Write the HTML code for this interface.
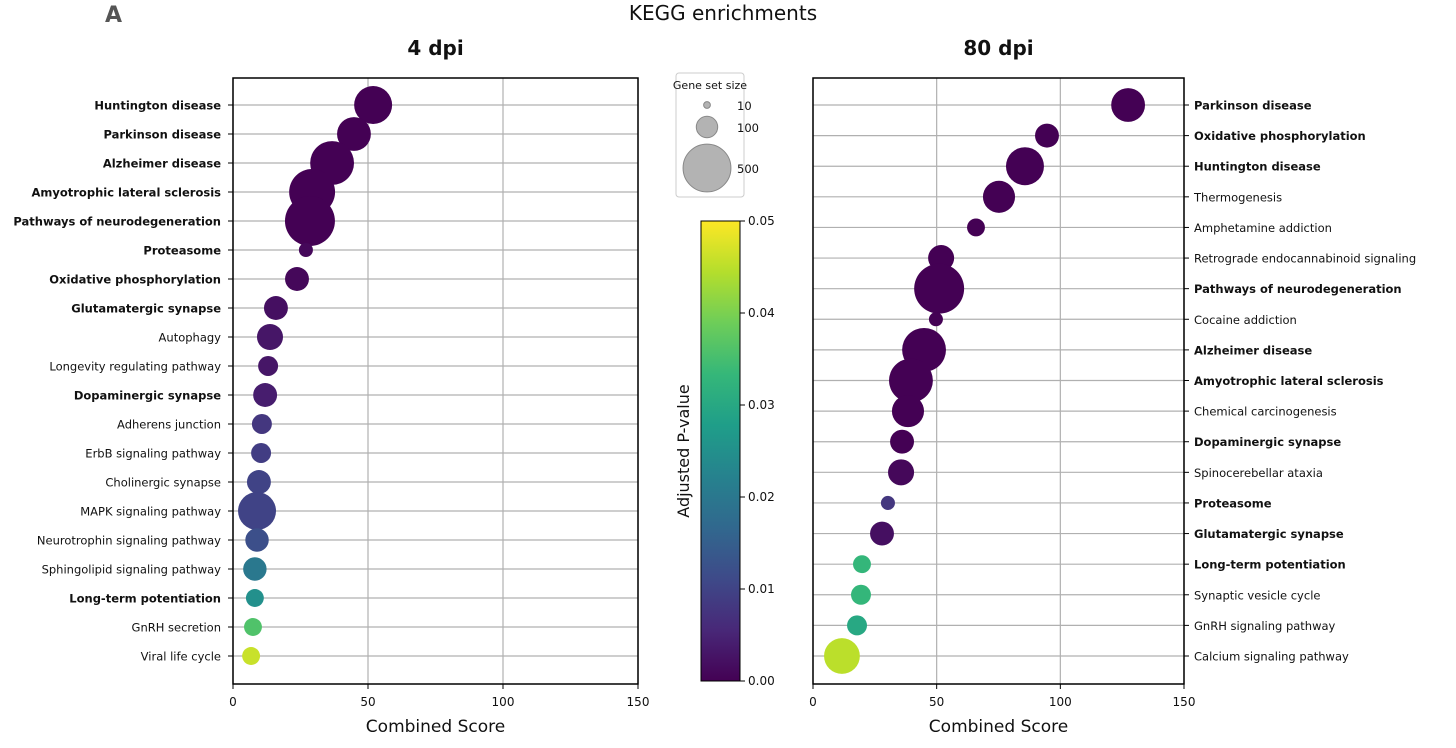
<!DOCTYPE html>
<html><head><meta charset="utf-8"><style>
body{margin:0;background:#fff;width:1456px;height:743px;overflow:hidden}
svg text{font-family:"DejaVu Sans","Liberation Sans",sans-serif;fill:#111}
</style></head><body>
<svg id="chart" width="1456" height="743">
<text x="105" y="22" font-size="22" font-weight="bold" fill="#555" style="fill:#555">A</text>
<text x="723" y="20" font-size="20" text-anchor="middle">KEGG enrichments</text>
</svg>
<script>
const leftTerms=["Huntington disease","Parkinson disease","Alzheimer disease","Amyotrophic lateral sclerosis","Pathways of neurodegeneration","Proteasome","Oxidative phosphorylation","Glutamatergic synapse","Autophagy","Longevity regulating pathway","Dopaminergic synapse","Adherens junction","ErbB signaling pathway","Cholinergic synapse","MAPK signaling pathway","Neurotrophin signaling pathway","Sphingolipid signaling pathway","Long-term potentiation","GnRH secretion","Viral life cycle"];
const leftScores=[51.9,44.8,36.7,29.3,28.5,27,23.7,15.9,13.7,13,11.9,10.7,10.4,9.6,8.9,8.9,8.1,8.1,7.4,6.7];
const leftSizes=[315,250,420,460,545,43,125,125,148,87,125,87,87,125,315,120,120,70,70,70];
const leftPvals=[0,0,0,0,0,0.001,0.001,0.002,0.003,0.003,0.004,0.008,0.009,0.010,0.010,0.012,0.020,0.025,0.036,0.046];
const leftBold=[1,1,1,1,1,1,1,1,0,0,1,0,0,0,0,0,0,1,0,0];
const rightTerms=["Parkinson disease","Oxidative phosphorylation","Huntington disease","Thermogenesis","Amphetamine addiction","Retrograde endocannabinoid signaling","Pathways of neurodegeneration","Cocaine addiction","Alzheimer disease","Amyotrophic lateral sclerosis","Chemical carcinogenesis","Dopaminergic synapse","Spinocerebellar ataxia","Proteasome","Glutamatergic synapse","Long-term potentiation","Synaptic vesicle cycle","GnRH signaling pathway","Calcium signaling pathway"];
const rightScores=[127.4,94.6,85.7,75.2,65.9,51.8,51,49.7,44.9,39.6,38.4,36,35.6,30.3,27.9,19.8,19.4,17.8,11.7];
const rightSizes=[250,125,315,225,70,148,545,43,420,420,225,125,148,43,125,70,87,87,280];
const rightPvals=[0,0,0,0,0,0,0,0,0,0,0,0,0.001,0.008,0.002,0.033,0.033,0.030,0.045];
const rightBold=[1,1,1,0,0,0,1,0,1,1,0,1,0,1,1,1,0,0,0];
const xTicks=[0,50,100,150];
const cbTicks=[0,0.01,0.02,0.03,0.04,0.05];
const legendSizes=[10,100,500];

const NS="http://www.w3.org/2000/svg";
const svg=document.getElementById('chart');
function el(t,a,p){const e=document.createElementNS(NS,t);for(const k in a)e.setAttribute(k,a[k]);(p||svg).appendChild(e);return e;}
const vir=[[68,1,84],[72,40,120],[62,74,137],[49,104,142],[38,130,142],[31,158,137],[53,183,121],[109,205,89],[180,222,44],[253,231,37]];
function viridis(t){t=Math.max(0,Math.min(1,t))*9;const i=Math.min(8,Math.floor(t)),f=t-i;const a=vir[i],b=vir[i+1];return `rgb(${a.map((v,k)=>Math.round(v+(b[k]-v)*f)).join(',')})`;}
function rad(n){return 1.07*Math.sqrt(n);}

function panel(name,x0,x1,y0,y1,terms,scores,sizes,pv,bold,labelsRight,title){
  const g=el('g',{});
  
  
  const xs=v=>x0+(v/150)*(x1-x0);
  const n=terms.length, top=y0+27, bot=y1-28, step=(bot-top)/(n-1);
  const ys=i=>top+i*step;
  xTicks.forEach(t=>{const l=el('line',{x1:xs(t),x2:xs(t),y1:y0,y2:y1,stroke:'#b0b0b0','stroke-width':1.2},g);
    
    el('line',{x1:xs(t),x2:xs(t),y1:y1,y2:y1+5,stroke:'#000'},g);
    const tx=el('text',{x:xs(t),y:y1+22,'font-size':12,'text-anchor':'middle'},g);tx.textContent=t;
    });
  terms.forEach((t,i)=>{const l=el('line',{x1:x0,x2:x1,y1:ys(i),y2:ys(i),stroke:'#b0b0b0','stroke-width':1.2},g);
    
    const tx0=labelsRight?x1:x0;
    el('line',{x1:tx0,x2:tx0+(labelsRight?5:-5),y1:ys(i),y2:ys(i),stroke:'#000'},g);
    const tx=el('text',{x:labelsRight?x1+10:x0-12,y:ys(i)+4.5,'font-size':11.5,'text-anchor':labelsRight?'start':'end','font-weight':bold[i]?'bold':'normal'},g);
    tx.textContent=t;});
  scores.forEach((s,i)=>{const c=el('circle',{cx:xs(s),cy:ys(i),r:rad(sizes[i]),fill:viridis(pv[i]/0.05)},g);
    });
  const fr=el('rect',{x:x0,y:y0,width:x1-x0,height:y1-y0,fill:'none',stroke:'#000','stroke-width':1.5},g);
  
  const tt=el('text',{x:(x0+x1)/2,y:y0-23,'font-size':20,'font-weight':'bold','text-anchor':'middle'},g);tt.textContent=title;
  
  const xl=el('text',{x:(x0+x1)/2,y:y1+48,'font-size':17,'text-anchor':'middle'},g);xl.textContent='Combined Score';
  
}
panel('4dpi',233,638,78,684,leftTerms,leftScores,leftSizes,leftPvals,leftBold,false,'4 dpi');
panel('80dpi',813,1184,78,684,rightTerms,rightScores,rightSizes,rightPvals,rightBold,true,'80 dpi');

const lg=el('g',{});

el('rect',{x:676,y:73,width:68,height:124,rx:3,fill:'#fff',stroke:'#ccc'},lg);
const lt=el('text',{x:710,y:89,'font-size':11,'text-anchor':'middle'},lg);lt.textContent='Gene set size';
const ly=[105,127,168];
legendSizes.forEach((s,i)=>{const c=el('circle',{cx:707,cy:ly[i],r:rad(s),fill:'#b3b3b3',stroke:'#888'},lg);
  
  const t=el('text',{x:737,y:ly[i]+5,'font-size':11.5},lg);t.textContent=s;});

const cb=el('g',{});

const defs=el('defs',{});const gr=el('linearGradient',{id:'vg',x1:0,y1:1,x2:0,y2:0},defs);
vir.forEach((c,i)=>el('stop',{offset:i/9,'stop-color':`rgb(${c})`},gr));
const cy0=221,cy1=681;
el('rect',{x:701,y:cy0,width:39,height:cy1-cy0,fill:'url(#vg)',stroke:'#000'},cb);
cbTicks.forEach(t=>{const y=cy1-(t/0.05)*(cy1-cy0);el('line',{x1:740,x2:745,y1:y,y2:y,stroke:'#000'},cb);
  const tx=el('text',{x:748,y:y+4,'font-size':12},cb);tx.textContent=t.toFixed(2);});
const ct=el('text',{x:0,y:0,'font-size':16,'text-anchor':'middle',transform:'translate(689,451) rotate(-90)'},cb);ct.textContent='Adjusted P-value';

</script>
</body></html>
